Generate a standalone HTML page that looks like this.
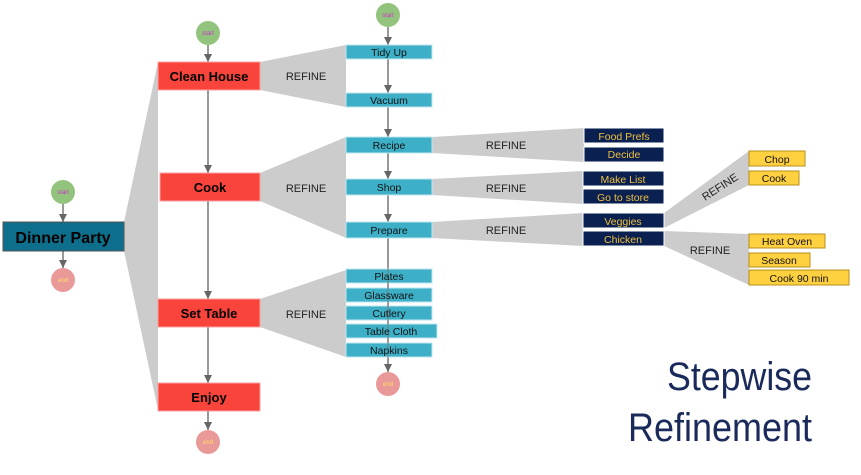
<!DOCTYPE html>
<html><head><meta charset="utf-8"><style>
html,body{margin:0;padding:0;background:#fff;}
svg{display:block;font-family:"Liberation Sans",sans-serif;}
</style></head><body>
<svg width="861" height="475" viewBox="0 0 861 475" xmlns="http://www.w3.org/2000/svg">
<g fill="#cccccc">
<polygon points="124,222 158,62 158,410 124,251"/>
<polygon points="260,62 346,45 346,107 260,90"/>
<polygon points="260,173 346,137 346,238 260,201"/>
<polygon points="260,299 346,270 346,357 260,327"/>
<polygon points="432,137 584,128 584,162 432,153"/>
<polygon points="432,179 583,171 583,204 432,195"/>
<polygon points="432,222 583,213 583,246 432,238"/>
<polygon points="664,213 749,151 749,185 664,228"/>
<polygon points="664,231 749,234 749,285 664,246"/>
</g>
<g stroke="#777" stroke-width="1.5" fill="#666">
<line x1="63" y1="204" x2="63" y2="222"/><polygon points="59,214 67,214 63,222" stroke="none"/>
<line x1="63" y1="251" x2="63" y2="268"/><polygon points="59,260 67,260 63,268" stroke="none"/>
<line x1="208" y1="45" x2="208" y2="62"/><polygon points="204,54 212,54 208,62" stroke="none"/>
<line x1="208" y1="90" x2="208" y2="173"/><polygon points="204,165 212,165 208,173" stroke="none"/>
<line x1="208" y1="201" x2="208" y2="299"/><polygon points="204,291 212,291 208,299" stroke="none"/>
<line x1="208" y1="327" x2="208" y2="383"/><polygon points="204,375 212,375 208,383" stroke="none"/>
<line x1="208" y1="411" x2="208" y2="430"/><polygon points="204,422 212,422 208,430" stroke="none"/>
<line x1="388" y1="27" x2="388" y2="45"/><polygon points="384,37 392,37 388,45" stroke="none"/>
<line x1="388" y1="59" x2="388" y2="93"/><polygon points="384,85 392,85 388,93" stroke="none"/>
<line x1="388" y1="107" x2="388" y2="137"/><polygon points="384,129 392,129 388,137" stroke="none"/>
<line x1="388" y1="153" x2="388" y2="179"/><polygon points="384,171 392,171 388,179" stroke="none"/>
<line x1="388" y1="195" x2="388" y2="222"/><polygon points="384,214 392,214 388,222" stroke="none"/>
<line x1="388" y1="238" x2="388" y2="372"/><polygon points="384,364 392,364 388,372" stroke="none"/>
</g>
<g font-size="6">
<circle cx="63" cy="192" r="12" fill="#93c47d"/><text x="63" y="194" fill="#cc33cc" text-anchor="middle">start</text>
<circle cx="63" cy="280" r="12" fill="#ea9999"/><text x="63" y="282" fill="#ffe066" text-anchor="middle">end</text>
<circle cx="208" cy="33" r="12" fill="#93c47d"/><text x="208" y="35" fill="#cc33cc" text-anchor="middle">start</text>
<circle cx="208" cy="442" r="12" fill="#ea9999"/><text x="208" y="444" fill="#ffe066" text-anchor="middle">end</text>
<circle cx="388" cy="15" r="12" fill="#93c47d"/><text x="388" y="17" fill="#cc33cc" text-anchor="middle">start</text>
<circle cx="388" cy="384" r="12" fill="#ea9999"/><text x="388" y="386" fill="#ffe066" text-anchor="middle">end</text>
</g>
<rect x="3" y="222" width="121" height="29" fill="#0e6f8d" stroke="#555"/>
<text x="63" y="243" font-size="16" font-weight="bold" text-anchor="middle" fill="#000">Dinner Party</text>
<g fill="#f9443c" stroke="#f8a0a0">
<rect x="158" y="62" width="102" height="28"/><rect x="160" y="173" width="100" height="28"/>
<rect x="158" y="299" width="102" height="28"/><rect x="158" y="383" width="102" height="28"/>
</g>
<g font-size="13" font-weight="bold" text-anchor="middle" fill="#000">
<text x="209" y="81">Clean House</text><text x="210" y="192">Cook</text>
<text x="209" y="318">Set Table</text><text x="209" y="402">Enjoy</text>
</g>
<g font-size="11" fill="#222" text-anchor="middle">
<text x="306" y="80">REFINE</text><text x="306" y="192">REFINE</text><text x="306" y="318">REFINE</text>
<text x="506" y="149">REFINE</text><text x="506" y="192">REFINE</text><text x="506" y="234">REFINE</text>
<text x="710" y="254">REFINE</text>
<text x="0" y="0" transform="translate(722,190) rotate(-33)">REFINE</text>
</g>
<g fill="#3db0c8" stroke="#bfe6ef" stroke-width="1">
<rect x="346" y="45" width="86" height="14"/><rect x="346" y="93" width="86" height="14"/>
<rect x="346" y="137" width="86" height="16"/><rect x="346" y="179" width="86" height="16"/>
<rect x="346" y="222" width="86" height="16"/>
<rect x="346" y="269" width="86" height="14"/><rect x="346" y="288" width="86" height="14"/>
<rect x="346" y="306" width="86" height="14"/><rect x="346" y="324" width="91" height="14"/>
<rect x="346" y="343" width="86" height="14"/>
</g>
<line x1="388" y1="269" x2="388" y2="357" stroke="#777" stroke-width="1"/>
<g font-size="10.5" fill="#111" text-anchor="middle">
<text x="389" y="56">Tidy Up</text><text x="389" y="104">Vacuum</text><text x="389" y="149">Recipe</text>
<text x="389" y="191">Shop</text><text x="389" y="234">Prepare</text><text x="389" y="280">Plates</text>
<text x="389" y="299">Glassware</text><text x="389" y="317">Cutlery</text><text x="391" y="335">Table Cloth</text>
<text x="389" y="354">Napkins</text>
</g>
<g fill="#0a2050" stroke="#fff">
<rect x="584" y="128" width="80" height="15"/><rect x="584" y="147" width="80" height="15"/>
<rect x="583" y="171" width="81" height="15"/><rect x="583" y="189" width="81" height="15"/>
<rect x="583" y="213" width="81" height="15"/><rect x="583" y="231" width="81" height="15"/>
</g>
<g font-size="10.5" fill="#f0c040" text-anchor="middle">
<text x="624" y="140">Food Prefs</text><text x="624" y="158">Decide</text>
<text x="623" y="183">Make List</text><text x="623" y="201">Go to store</text>
<text x="623" y="225">Veggies</text><text x="623" y="243">Chicken</text>
</g>
<g fill="#ffd040" stroke="#b8901a">
<rect x="749" y="151" width="56" height="15"/><rect x="749" y="171" width="50" height="14"/>
<rect x="749" y="234" width="76" height="14"/><rect x="749" y="253" width="61" height="14"/>
<rect x="749" y="270" width="100" height="15"/>
</g>
<g font-size="10.5" fill="#111" text-anchor="middle">
<text x="777" y="163">Chop</text><text x="774" y="182">Cook</text>
<text x="787" y="245">Heat Oven</text><text x="779" y="264">Season</text><text x="799" y="282">Cook 90 min</text>
</g>
<g font-size="40" fill="#1a2a5a">
<text x="667" y="390" textLength="145" lengthAdjust="spacingAndGlyphs">Stepwise</text>
<text x="628" y="441" textLength="184" lengthAdjust="spacingAndGlyphs">Refinement</text>
</g>
</svg>
</body></html>
